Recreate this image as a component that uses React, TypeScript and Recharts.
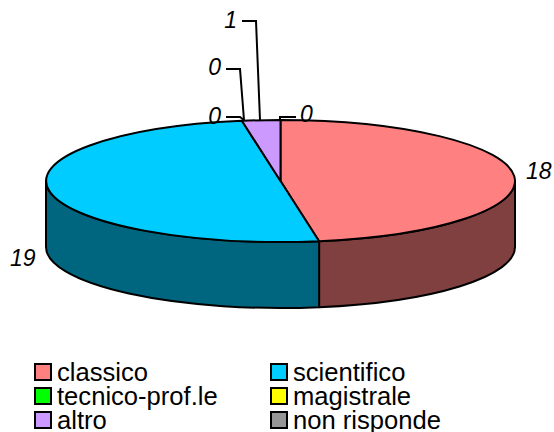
import React from "react";
import { PieChart, Pie, Legend } from "recharts";

const categories = ["classico", "scientifico", "tecnico-prof.le", "magistrale", "altro", "non risponde"];
const values = [18, 19, 0, 0, 1, 0];
const topColors = ["#FF8080", "#00CCFF", "#00FF00", "#FFFF00", "#CC99FF", "#969696"];
const wallColors = ["#804040", "#006680", "#008000", "#808000", "#664D80", "#4B4B4B"];

const tableData = categories.map((name, i) => ({ name, value: values[i], fill: topColors[i], wall: wallColors[i] }));

const W = 554;
const H = 432;
const CX = 280.5;
const CY = 181;
const RX = 234.5;
const RY = 61;
const DEPTH = 66;
const FONT = "'Liberation Sans', Arial, sans-serif";

type Lead = { x: number; y: number; anchor: "start" | "middle" | "end"; path?: string };
const labelLayout: Lead[] = [
  { x: 526, y: 179, anchor: "start" },
  { x: 10, y: 266, anchor: "start" },
  { x: 221, y: 124, anchor: "end", path: "M226 117 H240 L244 120" },
  { x: 300, y: 122, anchor: "start", path: "M280 120 V117 H296" },
  { x: 237, y: 28, anchor: "end", path: "M242 21 H256 L260 120" },
  { x: 221, y: 75, anchor: "end", path: "M226 69 H240 L244 120" },
];

const rad = (d: number) => (d * Math.PI) / 180;

function EllipticSector(props: any) {
  const { cx, cy, outerRadius, startAngle, endAngle, fill, wall, value } = props;
  if (!value) return null;
  const rx = outerRadius;
  const ry = (outerRadius * RY) / RX;
  const pt = (a: number, dy = 0) => [cx + rx * Math.cos(rad(a)), cy - ry * Math.sin(rad(a)) + dy];
  const [x0, y0] = pt(startAngle);
  const [x1, y1] = pt(endAngle);
  const large = Math.abs(startAngle - endAngle) > 180 ? 1 : 0;
  const wallStart = Math.min(startAngle, 0);
  const wallEnd = Math.max(endAngle, -180);
  let wallPath = null;
  if (wallStart > wallEnd) {
    const [a0, b0] = pt(wallStart);
    const [a1, b1] = pt(wallEnd);
    wallPath = (
      <path
        d={`M${a0} ${b0} A${rx} ${ry} 0 0 1 ${a1} ${b1} V${b1 + DEPTH} A${rx} ${ry} 0 0 0 ${a0} ${b0 + DEPTH} Z`}
        fill={wall}
        stroke="#000"
        strokeWidth={2}
        strokeLinejoin="round"
      />
    );
  }
  return (
    <g>
      {wallPath}
      <path
        d={`M${cx} ${cy} L${x0} ${y0} A${rx} ${ry} 0 ${large} 1 ${x1} ${y1} Z`}
        fill={fill}
        stroke="#000"
        strokeWidth={2}
        strokeLinejoin="round"
      />
    </g>
  );
}

function SliceLabel(props: any) {
  const { index, value } = props;
  const l = labelLayout[index];
  return (
    <g>
      {l.path && <path d={l.path} fill="none" stroke="#000" strokeWidth={2} />}
      <text x={l.x} y={l.y} textAnchor={l.anchor} fontFamily={FONT} fontSize={23} fontStyle="italic" fill="#000">
        {value}
      </text>
    </g>
  );
}

const legendCols = [34, 270];
const legendRows = [360, 384, 408];

function LegendGrid(props: any) {
  const payload = props.payload || [];
  return (
    <div style={{ position: "relative", width: W, height: H }}>
      {payload.map((p: any, i: number) => (
        <div
          key={p.value}
          style={{
            position: "absolute",
            left: legendCols[i % 2],
            top: legendRows[Math.floor(i / 2)],
            display: "flex",
            alignItems: "center",
            height: 24,
            whiteSpace: "nowrap",
          }}
        >
          <span
            style={{
              width: 14,
              height: 14,
              background: p.payload?.fill ?? p.color,
              border: "2px solid #000",
              display: "block",
              marginRight: 5,
              boxSizing: "content-box",
            }}
          />
          <span style={{ fontFamily: FONT, fontSize: 25.6, lineHeight: "24px", color: "#000" }}>{p.value}</span>
        </div>
      ))}
    </div>
  );
}

export default function App() {
  return (
    <div style={{ position: "absolute", left: 0, top: 0, width: W, height: H, background: "#fff" }}>
      <PieChart width={W} height={H} margin={{ top: 0, right: 0, bottom: 0, left: 0 }}>
        <Pie
          data={tableData}
          dataKey="value"
          nameKey="name"
          cx={CX}
          cy={CY}
          outerRadius={RX}
          startAngle={90}
          endAngle={-270}
          stroke="#000"
          isAnimationActive={false}
          shape={EllipticSector}
          label={SliceLabel}
          labelLine={false}
        />
        <Legend
          content={LegendGrid}
          itemSorter={null}
          wrapperStyle={{ position: "absolute", left: 0, top: 0, width: W, height: H, margin: 0 }}
        />
      </PieChart>
    </div>
  );
}
